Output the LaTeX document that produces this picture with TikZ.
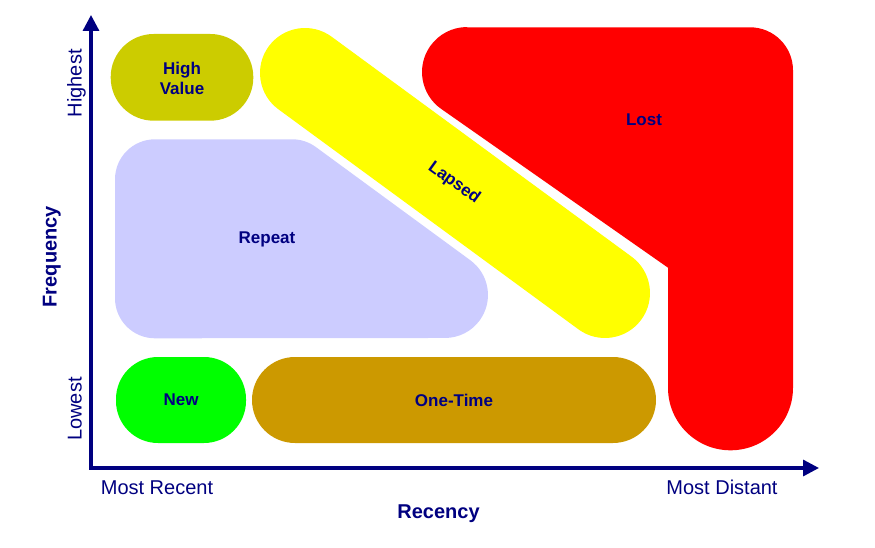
\documentclass[tikz,border=0pt]{standalone}
\usepackage{fontspec}
\setmainfont{Liberation Sans}
\usetikzlibrary{arrows.meta}
\definecolor{navyc}{RGB}{0,0,128}
\definecolor{hvc}{RGB}{204,204,0}
\definecolor{repc}{RGB}{204,204,255}
\definecolor{lapc}{RGB}{255,255,0}
\definecolor{lostc}{RGB}{255,0,0}
\definecolor{newc}{RGB}{0,255,0}
\definecolor{otc}{RGB}{204,153,0}
\begin{document}
\begin{tikzpicture}[x=1pt,y=-1pt,
  seglabel/.style={text=navyc,font=\fontsize{17}{20}\selectfont\bfseries,align=center,inner sep=1pt},
  axislabel/.style={text=navyc,font=\fontsize{20}{24}\selectfont},
  axistitle/.style={text=navyc,font=\fontsize{20}{24}\selectfont\bfseries},
  axisline/.style={draw=navyc,line width=3.3pt,<->,>={Triangle[length=16pt,width=16pt]}}]
\useasboundingbox (0,0) rectangle (875,548);
% segments
\fill[hvc,rounded corners=43] (110.7,34) rectangle (253.3,120.7);
\fill[newc,rounded corners=42] (116,357) rectangle (246,443);
\fill[otc,rounded corners=43] (252,357) rectangle (656,443);
% repeat
\fill[repc] (155,139.3) -- (292.2,139.3)
  arc[start angle=270,end angle=306.24,radius=40]
  -- (470.4,260.3)
  arc[start angle=306.24,end angle=450,radius=43]
  -- (155,338.3)
  arc[start angle=90,end angle=180,radius=40]
  -- (115,179.3)
  arc[start angle=180,end angle=270,radius=40] -- cycle;
% lapsed
\draw[lapc,line width=90pt,line cap=round] (305,73) -- (605,293);
% lost
\fill[lostc] (467,27.3) -- (750,27.3)
  arc[start angle=270,end angle=360,radius=43]
  -- (793,387.8)
  arc[start angle=0,end angle=180,radius=62.5]
  -- (668,267.7) -- (441.2,108.9)
  arc[start angle=125,end angle=270,radius=45] -- cycle;
% labels
\node[seglabel] (hv) at (182,78) {High\\Value};
\node[seglabel] (rep) at (267,239) {Repeat};
\node[seglabel,rotate=-36] (lap) at (454,183) {Lapsed};
\node[seglabel] (lost) at (644,120) {Lost};
\node[seglabel] (new) at (181,400) {New};
\node[seglabel] (ot) at (454,400) {One-Time};
% axes
\coordinate (ytip) at (91,15);
\coordinate (xtip) at (819,468);
\draw[axisline] (ytip) |- (xtip);
\node[axislabel,rotate=90,anchor=base] (hi) at (81.5,83.3) {Highest};
\node[axislabel,rotate=90,anchor=base] (lo) at (81.5,409) {Lowest};
\node[axistitle,rotate=90,anchor=base] (freq) at (56.5,256.7) {Frequency};
\node[axislabel,anchor=base] (mr) at (157,494) {Most Recent};
\node[axislabel,anchor=base] (md) at (722,494) {Most Distant};
\node[axistitle,anchor=base] (rec) at (438.5,518) {Recency};
\end{tikzpicture}
\end{document}
